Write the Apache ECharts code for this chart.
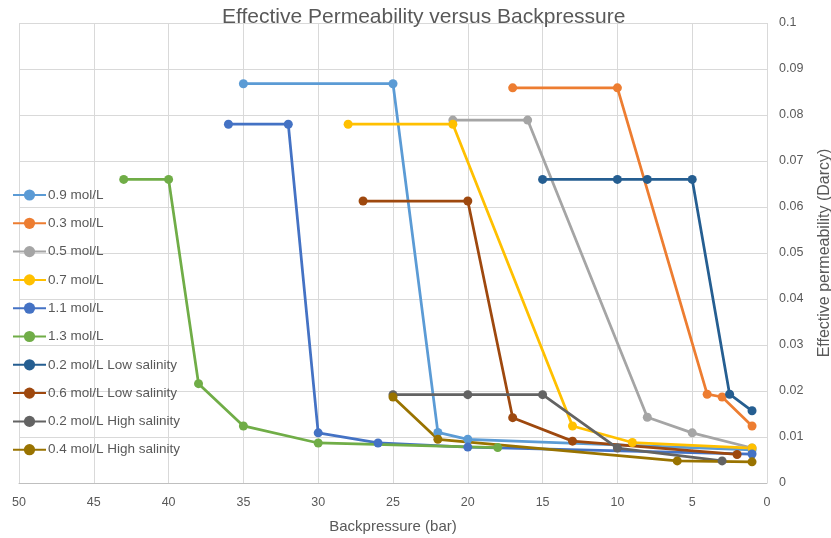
<!DOCTYPE html>
<html>
<head>
<meta charset="utf-8">
<script src="https://cdn.jsdelivr.net/npm/echarts@6/dist/echarts.min.js"></script>
<style>
  html, body { margin: 0; padding: 0; background: #fff; }
  #chart { width: 831px; height: 538px; }
</style>
</head>
<body>
<div id="chart"></div>
<script>
// Backpressure (bar) and effective permeability (Darcy) pairs for each brine test
const names = [
  '0.9 mol/L', '0.3 mol/L', '0.5 mol/L', '0.7 mol/L', '1.1 mol/L', '1.3 mol/L',
  '0.2 mol/L Low salinity', '0.6 mol/L Low salinity',
  '0.2 mol/L High salinity', '0.4 mol/L High salinity'
];
const s09 = [[35, 0.0868], [25, 0.0868], [22, 0.011], [20, 0.0095], [1, 0.0072]];
const s03 = [[17, 0.0859], [10, 0.0859], [4, 0.0193], [3, 0.0187], [1, 0.0124]];
const s05 = [[21, 0.0789], [16, 0.0789], [8, 0.0143], [5, 0.0109], [1, 0.0076]];
const s07 = [[28, 0.078], [21, 0.078], [13, 0.0124], [9, 0.0088], [1, 0.0076]];
const s11 = [[36, 0.078], [32, 0.078], [30, 0.0109], [26, 0.0087], [20, 0.0078], [1, 0.0063]];
const s13 = [[43, 0.066], [40, 0.066], [38, 0.0216], [35, 0.0124], [30, 0.0087], [18, 0.0077]];
const s02low = [[15, 0.066], [10, 0.066], [8, 0.066], [5, 0.066], [2.5, 0.0193], [1, 0.0157]];
const s06low = [[27, 0.0613], [20, 0.0613], [17, 0.0142], [13, 0.0091], [2, 0.0062]];
const s02high = [[25, 0.0192], [20, 0.0192], [15, 0.0192], [10, 0.0076], [3, 0.0048]];
const s04high = [[25, 0.0187], [22, 0.0095], [6, 0.0048], [1, 0.0046]];
const seriesData = [s09, s03, s05, s07, s11, s13, s02low, s06low, s02high, s04high];
const colors = ['#5B9BD5', '#ED7D31', '#A5A5A5', '#FFC000', '#4472C4', '#70AD47',
                '#255E91', '#9E480E', '#636363', '#997300'];
const xTicks = { min: 0, max: 50, step: 5 };
const yTicks = { min: 0, max: 0.1, step: 0.01 };

const font = '"Liberation Sans", sans-serif';
const textGray = '#595959';

const chart = echarts.init(document.getElementById('chart'));
chart.setOption({
  animation: false,
  color: colors,
  title: {
    text: 'Effective Permeability versus Backpressure',
    left: 222,
    top: 7,
    padding: 0,
    textStyle: { fontFamily: font, fontSize: 21, fontWeight: 'normal', color: textGray }
  },
  legend: {
    orient: 'vertical',
    left: 12,
    top: 188,
    padding: 0,
    itemWidth: 33,
    itemHeight: 14,
    itemGap: 14.3,
    data: names,
    textStyle: { fontFamily: font, fontSize: 13.5, color: textGray, padding: [0, 0, 0, -3] }
  },
  grid: { left: 19, right: 64, top: 23, bottom: 55, containLabel: false, outerBoundsMode: 'none' },
  xAxis: {
    type: 'value',
    inverse: true,
    min: xTicks.min,
    max: xTicks.max,
    interval: xTicks.step,
    name: 'Backpressure (bar)',
    nameLocation: 'middle',
    nameGap: 36,
    nameTextStyle: { fontFamily: font, fontSize: 15, color: textGray },
    axisLine: { show: true, lineStyle: { color: '#bfbfbf' } },
    axisTick: { show: false },
    axisLabel: { fontFamily: font, fontSize: 12.5, color: textGray, margin: 13 },
    splitLine: { show: true, lineStyle: { color: '#d9d9d9' } }
  },
  yAxis: {
    type: 'value',
    position: 'right',
    min: yTicks.min,
    max: yTicks.max,
    interval: yTicks.step,
    name: 'Effective permeability (Darcy)',
    nameLocation: 'middle',
    nameRotate: 90,
    nameGap: 50,
    nameTextStyle: { fontFamily: font, fontSize: 16, color: textGray },
    axisLine: { show: false },
    axisTick: { show: false },
    axisLabel: { fontFamily: font, fontSize: 12.5, color: textGray, margin: 12,
                 formatter: v => String(parseFloat(v.toFixed(2))) },
    splitLine: { show: true, lineStyle: { color: '#d9d9d9' } }
  },
  series: seriesData.map((d, i) => ({
    name: names[i],
    type: 'line',
    data: d,
    symbol: 'circle',
    symbolSize: 9,
    lineStyle: { width: 2.75, color: colors[i] },
    itemStyle: { color: colors[i] }
  }))
});
</script>
</body>
</html>
